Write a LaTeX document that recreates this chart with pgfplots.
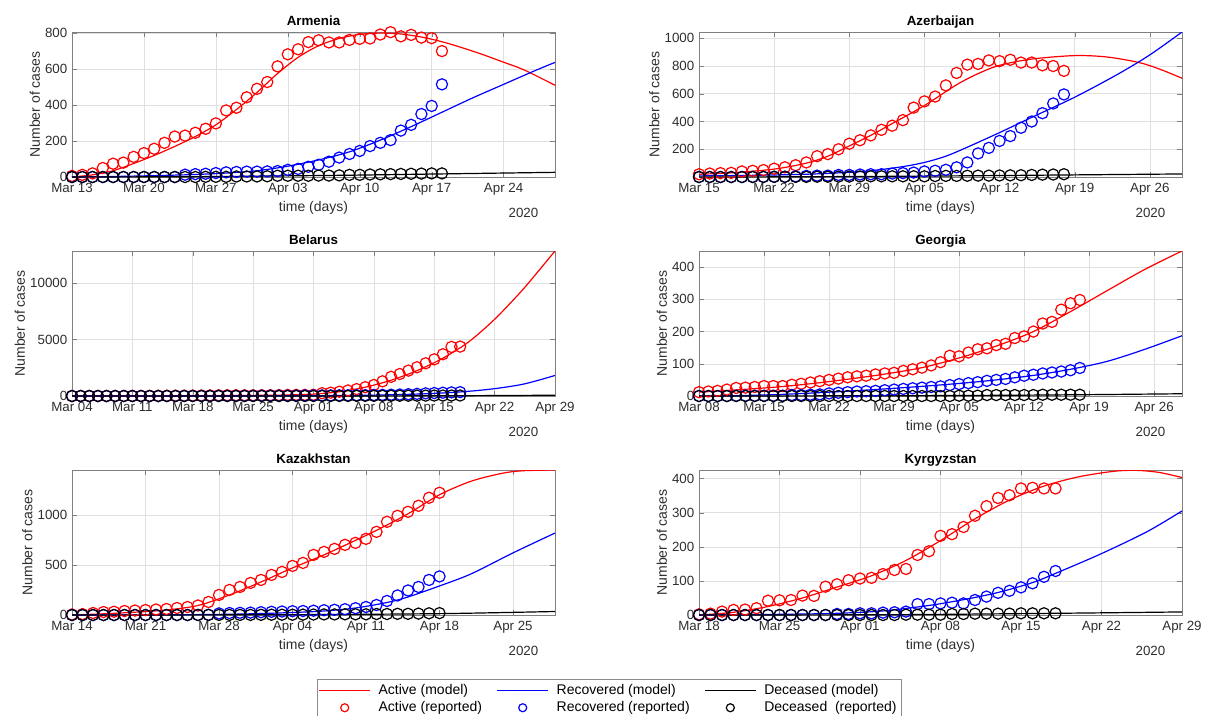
\documentclass[border=0pt]{standalone}
\usepackage{fontspec}
\setmainfont{Liberation Sans}
\usepackage{pgfplots}
\usepackage{pgfplotstable}
\pgfplotsset{compat=1.18}

\definecolor{axgray}{gray}{0.5}
\definecolor{txtgray}{gray}{0.18}

% reported data: day (March day number, April = 31+day), active, recovered, deceased
\pgfplotstableread{
d a r k
13 6 0 0
14 12 0 0
15 20 0 0
16 50 0 0
17 74 0 0
18 80 0 0
19 112 0 0
20 133 0 0
21 157 0 0
22 190 0 0
23 225 0 0
24 230 13 0
25 246 16 0
26 268 18 1
27 298 22 1
28 370 26 1
29 385 28 3
30 443 30 3
31 490 30 3
32 528 31 4
33 615 33 7
34 682 40 7
35 710 45 7
36 750 57 7
37 760 68 8
38 748 85 8
39 748 108 9
40 762 128 12
41 768 145 12
42 770 172 14
43 792 190 15
44 805 205 16
45 782 258 17
46 790 290 18
47 775 350 19
48 772 395 20
49 700 515 20
}\armrep

\pgfplotstableread{
d a r k
15 20 0 0
16 25 0 0
17 28 0 0
18 30 0 0
19 40 0 0
20 45 1 0
21 50 1 1
22 60 2 1
23 70 2 1
24 85 5 1
25 105 8 1
26 150 10 2
27 165 10 2
28 200 15 3
29 240 15 3
30 265 18 4
31 300 20 5
32 340 20 5
33 370 25 5
34 410 28 5
35 500 32 5
36 545 40 5
37 580 45 7
38 660 52 8
39 750 70 8
40 810 105 9
41 815 170 10
42 840 210 10
43 835 260 11
44 845 295 12
45 825 355 13
46 825 400 15
47 805 460 17
48 800 530 18
49 765 595 20
}\azerep

\pgfplotstableread{
d a r k
4 1 0 0
5 6 0 0
6 6 0 0
7 6 0 0
8 6 0 0
9 6 0 0
10 6 0 0
11 6 0 0
12 9 0 0
13 12 0 0
14 21 0 0
15 27 3 0
16 33 3 0
17 33 3 0
18 40 5 0
19 45 5 0
20 55 5 0
21 60 15 0
22 70 15 0
23 70 15 0
24 65 16 0
25 65 22 0
26 70 28 0
27 75 28 0
28 80 29 0
29 95 32 0
30 105 46 2
31 100 52 2
32 110 53 4
33 250 54 4
34 295 55 5
35 380 60 5
36 490 65 8
37 610 67 13
38 780 75 13
39 980 84 16
40 1300 100 19
41 1700 116 23
42 1950 132 26
43 2250 160 29
44 2550 190 33
45 2900 235 36
46 3250 265 40
47 3700 291 42
48 4350 320 45
49 4380 342 47
}\blrrep

\pgfplotstableread{
d a r k
8 12 0 0
9 14 0 0
10 16 0 0
11 20 0 0
12 25 1 0
13 26 1 0
14 28 1 0
15 31 1 0
16 31 1 0
17 31 1 0
18 35 3 0
19 38 3 0
20 42 4 0
21 46 5 0
22 50 8 0
23 54 10 0
24 58 12 0
25 61 14 0
26 63 15 0
27 67 16 0
28 70 18 0
29 72 20 0
30 78 22 0
31 83 24 0
32 88 26 0
33 95 28 0
34 105 30 0
35 125 34 0
36 123 37 1
37 135 40 1
38 145 43 1
39 148 47 3
40 158 50 3
41 162 53 3
42 180 58 3
43 185 63 3
44 200 66 3
45 225 70 4
46 230 73 4
47 268 76 4
48 288 80 4
49 298 87 4
}\georep

\pgfplotstableread{
d a r k
14 5 0 0
15 9 0 0
16 20 0 0
17 30 0 0
18 33 0 0
19 40 0 0
20 45 0 0
21 50 0 0
22 55 0 0
23 60 0 0
24 70 0 0
25 80 0 0
26 95 1 0
27 130 2 1
28 200 16 1
29 250 20 1
30 280 22 1
31 320 24 1
32 350 28 2
33 400 32 3
34 430 35 3
35 490 38 3
36 520 40 4
37 600 43 5
38 630 48 6
39 660 52 6
40 700 58 7
41 720 68 7
42 760 80 7
43 830 100 10
44 930 140 10
45 990 195 12
46 1030 245 12
47 1090 280 14
48 1170 350 17
49 1220 385 19
}\kazrep

\pgfplotstableread{
d a r k
18 2 0 0
19 4 0 0
20 10 0 0
21 15 0 0
22 16 0 0
23 20 0 0
24 42 0 0
25 43 0 0
26 44 0 0
27 57 0 0
28 56 0 0
29 83 0 0
30 90 3 0
31 102 3 0
32 107 5 0
33 109 5 0
34 120 7 0
35 132 8 0
36 135 10 1
37 176 32 1
38 187 32 1
39 232 34 1
40 237 36 3
41 258 34 3
42 291 44 4
43 319 54 4
44 343 65 4
45 351 71 4
46 371 81 5
47 373 93 5
48 371 112 5
49 371 129 5
}\kgzrep

\newcommand{\yearnote}{\node[anchor=east, font=\fontsize{10}{12}\selectfont, text=txtgray, xshift=-9pt, yshift=-27pt] at (rel axis cs:1,0) {2020};}

\pgfplotsset{
  panel/.style={
    scale only axis, width=362.25pt, height=108.75pt, anchor=south west,
    xmax=60, ymin=0,
    axis line style={axgray}, tick style={axgray},
    grid=major, major grid style={black!12},
    tick align=inside, major tick length=3.5pt,
    ticklabel style={font=\fontsize{10}{12}\selectfont, text=txtgray},
    xticklabel style={yshift=-1pt},
    /pgf/number format/assume math mode=true,
    /pgf/number format/1000 sep={},
    scaled y ticks=false,
    xlabel={time (days)}, ylabel={Number of cases},
    label style={font=\fontsize{10.5}{12}\selectfont, text=txtgray},
    xlabel style={at={(axis description cs:0.5,0)}, anchor=center, yshift=-23.5pt},
    ylabel shift=-3pt,
    title style={font=\bfseries\fontsize{10}{12}\selectfont,
      at={(axis description cs:0.5,1)}, anchor=base, yshift=-1pt},
    after end axis/.code={\yearnote},
  },
  model/.style={line width=0.9pt, smooth, no markers},
  rep/.style={only marks, mark=o, mark size=4.2pt, line width=0.9pt},
}

\begin{document}
\begin{tikzpicture}
\path[use as bounding box] (0pt,0pt) rectangle (909.75pt,-536.25pt);

% Armenia
\begin{axis}[panel, at={(54pt,-132.75pt)}, title={Armenia},
  xmin=13, ymax=806, ytick={0,200,400,600,800},
  xtick={13,20,27,34,41,48,55},
  xticklabels={Mar 13,Mar 20,Mar 27,Apr 03,Apr 10,Apr 17,Apr 24}]
\addplot[model, red] coordinates {(13,0) (15,12) (17,35) (19,75) (21,120) (23,170) (25,225) (27,290) (29,375) (31,470) (33,575) (35,665) (37,730) (39,770) (41,793) (43,800) (45,795) (47,778) (49,752) (51,718) (53,680) (55,638) (57,595) (60,510)};
\addplot[model, blue] coordinates {(13,0) (16,2) (19,5) (22,9) (25,14) (28,22) (31,35) (34,60) (37,95) (40,140) (43,205) (46,280) (49,360) (52,440) (55,515) (58,590) (60,637)};
\addplot[model, black] coordinates {(13,0) (20,1) (25,2) (30,4) (35,7) (40,10) (45,14) (50,18) (55,22) (60,26)};
\addplot[rep, red] table[x=d, y=a] {\armrep};
\addplot[rep, blue] table[x=d, y=r] {\armrep};
\addplot[rep, black] table[x=d, y=k] {\armrep};
\end{axis}

% Azerbaijan
\begin{axis}[panel, at={(524.25pt,-132.75pt)}, title={Azerbaijan},
  xmin=15, ymin=0, ymax=1045, ytick={200,400,600,800,1000},
  xtick={15,22,29,36,43,50,57},
  xticklabels={Mar 15,Mar 22,Mar 29,Apr 05,Apr 12,Apr 19,Apr 26}]
\addplot[model, red] coordinates {(15,20) (18,30) (22,57) (25,100) (27,150) (29,224) (31,300) (33,385) (36,515) (39,665) (41,745) (43,805) (46,850) (50,875) (53,865) (56,825) (58,775) (60,712)};
\addplot[model, blue] coordinates {(15,8) (20,12) (25,20) (28,30) (31,45) (34,75) (36,105) (38,150) (40,215) (43,320) (46,430) (50,575) (54,740) (57,880) (60,1045)};
\addplot[model, black] coordinates {(15,0) (25,2) (35,6) (45,12) (60,22)};
\addplot[rep, red] table[x=d, y=a] {\azerep};
\addplot[rep, blue] table[x=d, y=r] {\azerep};
\addplot[rep, black] table[x=d, y=k] {\azerep};
\end{axis}

% Belarus
\begin{axis}[panel, at={(54pt,-297pt)}, title={Belarus},
  xmin=4, ymax=12850, ytick={0,5000,10000},
  xtick={4,11,18,25,32,39,46,53,60},
  xticklabels={Mar 04,Mar 11,Mar 18,Mar 25,Apr 01,Apr 08,Apr 15,Apr 22,Apr 29}]
\addplot[model, red] coordinates {(4,0) (10,5) (16,15) (22,40) (26,60) (29,90) (32,170) (35,380) (38,780) (41,1400) (44,2250) (47,3350) (50,4800) (53,6800) (56,9200) (58,11000) (60,12850)};
\addplot[model, blue] coordinates {(4,0) (20,5) (30,20) (36,50) (40,90) (44,170) (47,270) (50,420) (53,650) (56,1000) (58,1380) (60,1820)};
\addplot[model, black] coordinates {(4,0) (30,2) (40,10) (50,30) (60,70)};
\addplot[rep, red] table[x=d, y=a] {\blrrep};
\addplot[rep, blue] table[x=d, y=r] {\blrrep};
\addplot[rep, black] table[x=d, y=k] {\blrrep};
\end{axis}

% Georgia
\begin{axis}[panel, at={(524.25pt,-297pt)}, title={Georgia},
  xmin=8, ymax=450, ytick={0,100,200,300,400},
  xtick={8,15,22,29,36,43,50,57},
  xticklabels={Mar 08,Mar 15,Mar 22,Mar 29,Apr 05,Apr 12,Apr 19,Apr 26}]
\addplot[model, red] coordinates {(8,12) (12,19) (16,27) (20,38) (24,52) (28,68) (32,88) (36,118) (40,155) (44,200) (48,262) (52,328) (56,393) (60,450)};
\addplot[model, blue] coordinates {(8,0) (12,1) (16,4) (20,9) (24,15) (28,22) (32,30) (36,39) (40,50) (44,64) (48,83) (52,108) (56,145) (60,187)};
\addplot[model, black] coordinates {(8,0) (30,1) (45,3) (60,7)};
\addplot[rep, red] table[x=d, y=a] {\georep};
\addplot[rep, blue] table[x=d, y=r] {\georep};
\addplot[rep, black] table[x=d, y=k] {\georep};
\end{axis}

% Kazakhstan
\begin{axis}[panel, at={(54pt,-461.25pt)}, title={Kazakhstan},
  xmin=14, ymax=1447, ytick={0,500,1000},
  xtick={14,21,28,35,42,49,56},
  xticklabels={Mar 14,Mar 21,Mar 28,Apr 04,Apr 11,Apr 18,Apr 25}]
\addplot[model, red] coordinates {(14,0) (17,12) (20,28) (23,50) (26,95) (29,200) (32,330) (35,470) (38,600) (41,745) (43,845) (46,1010) (49,1200) (52,1335) (55,1415) (57,1440) (60,1447)};
\addplot[model, blue] coordinates {(14,0) (22,2) (27,5) (31,12) (35,25) (38,40) (41,70) (44,125) (46,180) (49,290) (52,410) (56,620) (60,818)};
\addplot[model, black] coordinates {(14,0) (30,2) (40,6) (50,15) (60,35)};
\addplot[rep, red] table[x=d, y=a] {\kazrep};
\addplot[rep, blue] table[x=d, y=r] {\kazrep};
\addplot[rep, black] table[x=d, y=k] {\kazrep};
\end{axis}

% Kyrgyzstan
\begin{axis}[panel, at={(524.25pt,-461.25pt)}, title={Kyrgyzstan},
  xmin=18, ymax=425, ytick={0,100,200,300,400},
  xtick={18,25,32,39,46,53,60},
  xticklabels={Mar 18,Mar 25,Apr 01,Apr 08,Apr 15,Apr 22,Apr 29}]
\addplot[model, red] coordinates {(18,0) (21,8) (24,25) (27,50) (30,82) (33,115) (36,160) (39,218) (42,282) (45,337) (48,378) (51,405) (54,421) (56,424) (58,418) (60,403)};
\addplot[model, blue] coordinates {(18,0) (25,2) (30,5) (34,12) (38,28) (41,45) (44,66) (47,95) (49,122) (53,180) (57,245) (60,305)};
\addplot[model, black] coordinates {(18,0) (35,1) (49,5) (60,9)};
\addplot[rep, red] table[x=d, y=a] {\kgzrep};
\addplot[rep, blue] table[x=d, y=r] {\kgzrep};
\addplot[rep, black] table[x=d, y=k] {\kgzrep};
\end{axis}

% shared legend
\begin{axis}[hide axis, scale only axis, width=1pt, height=1pt,
  xmin=0, xmax=1, ymin=0, ymax=1,
  at={(456.75pt,-524.25pt)}, anchor=center,
  legend columns=3,
  legend cell align=left,
  legend image code/.code={\draw[mark repeat=2,mark phase=2] plot coordinates {(0pt,0pt) (19pt,0pt) (38pt,0pt)};},
  legend style={at={(0.5,0.5)}, anchor=center, draw=black!45,
    font=\fontsize{10.5}{12.5}\selectfont,
    inner sep=1.5pt, row sep=0pt,
    /tikz/every odd column/.append style={column sep=4pt},
    /tikz/every even column/.append style={column sep=9pt}}]
\addlegendimage{color=red, line width=0.9pt}
\addlegendentry{Active (model)}
\addlegendimage{color=blue, line width=0.9pt}
\addlegendentry{Recovered (model)}
\addlegendimage{color=black, line width=0.9pt}
\addlegendentry{Deceased (model)}
\addlegendimage{only marks, mark=o, mark size=3pt, line width=0.9pt, color=red}
\addlegendentry{Active (reported)}
\addlegendimage{only marks, mark=o, mark size=3pt, line width=0.9pt, color=blue}
\addlegendentry{Recovered (reported)}
\addlegendimage{only marks, mark=o, mark size=3pt, line width=0.9pt, color=black}
\addlegendentry{Deceased~ (reported)}
\end{axis}
\end{tikzpicture}
\end{document}
